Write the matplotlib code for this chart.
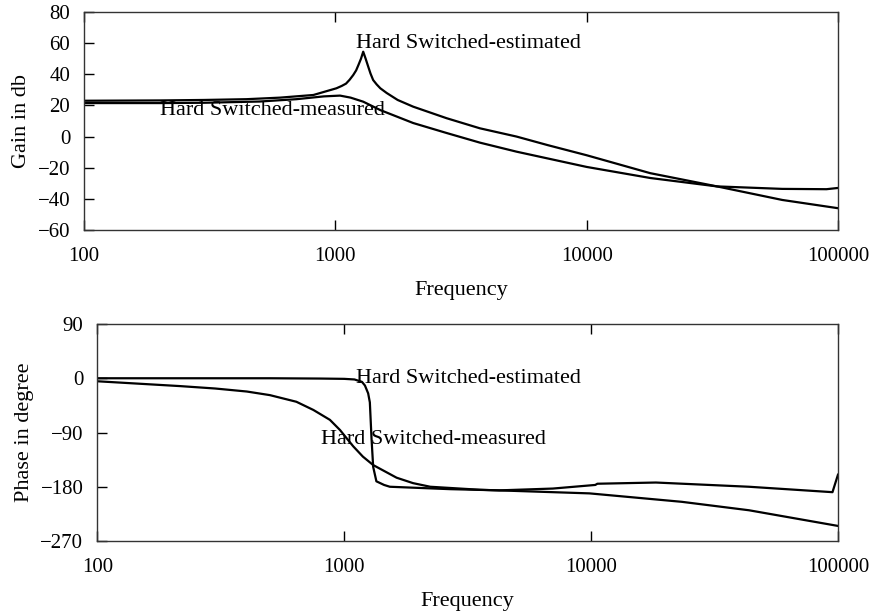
import numpy as np
import matplotlib
matplotlib.use("Agg")
import matplotlib.pyplot as plt
from matplotlib.ticker import FixedLocator, NullLocator

plt.rcParams['font.family'] = ['Liberation Serif', 'DejaVu Serif']
plt.rcParams['font.size'] = 15


# ------- Data -------

gain_est_f = [100, 200, 300, 443, 603, 818, 1010, 1060, 1103, 1140, 1178, 1210, 1236, 1265,
              1291, 1320, 1351, 1380, 1414, 1460, 1510, 1600, 1770, 2040, 2770, 3760, 5260,
              7000, 10000, 17900, 33000, 60000, 100000]
gain_est = [23, 23.2, 23.5, 24, 25, 26.7, 31, 32.5, 34, 36.5, 39.5, 42.5, 46, 50,
            54.5, 50, 45, 40.5, 36.3, 33.5, 31, 28, 23.5, 19.2, 11.8, 5.3, 0,
            -5.5, -12, -23.5, -32, -40.7, -46]

gain_meas_f = [100, 200, 300, 500, 700, 900, 1044, 1150, 1291, 1510, 2040, 2770, 3760,
               5260, 10000, 17900, 33000, 60000, 90000, 100000]
gain_meas = [21.5, 21.5, 21.7, 22.5, 24, 25.8, 26.3, 25, 22.4, 17, 8.7, 2.3, -3.9,
             -9.7, -19.5, -26.6, -32, -33.6, -33.8, -33]

phase_est_f = [100, 500, 800, 1000, 1100, 1180, 1213, 1250, 1270, 1290, 1310, 1350, 1450,
               1530, 2680, 4250, 7000, 10400, 10600, 18300, 43600, 95000, 100000]
phase_est = [0, 0, -0.5, -1, -2, -6, -12, -25, -40, -100, -147, -171, -177,
             -180, -184, -186, -183, -177, -175, -173, -180, -189, -160]

phase_meas_f = [100, 216, 300, 403, 500, 640, 750, 875, 962, 1024, 1088, 1190, 1310, 1630,
                1900, 2230, 3540, 9850, 23300, 43600, 100000]
phase_meas = [-5, -13, -17, -22, -28, -39, -52.6, -69, -86, -99.8, -113, -130, -144, -165,
              -174, -180, -185, -191, -205, -219, -245]

freq_ticks = [100, 1000, 10000, 100000]
gain_ticks = [-60, -40, -20, 0, 20, 40, 60, 80]
phase_ticks = [-270, -180, -90, 0, 90]


# ------- Create the figure -------

fig = plt.figure(figsize=(8.77, 6.14), dpi=100)
axg = fig.add_axes([0.0958, 0.6254, 0.8597, 0.3551])
axp = fig.add_axes([0.111, 0.1189, 0.8445, 0.3534])


def style_axis(ax, yticks, ylabel):
    ax.set_xscale('log')
    ax.set_xlim(100, 100000)
    ax.set_ylim(yticks[0], yticks[-1])
    ax.xaxis.set_major_locator(FixedLocator(freq_ticks))
    ax.xaxis.set_minor_locator(NullLocator())
    ax.set_xticklabels([str(t) for t in freq_ticks])
    ax.set_yticks(yticks)
    ax.tick_params(axis='x', direction='in', length=7, width=1, top=True, bottom=True, pad=12)
    ax.tick_params(axis='y', direction='in', length=7, width=1, left=True, right=False, pad=10)
    for s in ax.spines.values():
        s.set_color('#333333')
        s.set_linewidth(1)
    ax.set_xlabel('Frequency', fontsize=16, labelpad=11)
    ax.set_ylabel(ylabel, fontsize=16, labelpad=5)


# ------- Gain plot -------

axg.plot(gain_est_f, gain_est, color='black', linewidth=1.6)
axg.plot(gain_meas_f, gain_meas, color='black', linewidth=1.6)
style_axis(axg, gain_ticks, 'Gain in db')
axg.text(1208, 60, 'Hard Switched-estimated', fontsize=16, ha='left', va='center')
axg.text(200, 17, 'Hard Switched-measured', fontsize=16, ha='left', va='center')


# ------- Phase plot -------

axp.plot(phase_est_f, phase_est, color='black', linewidth=1.6)
axp.plot(phase_meas_f, phase_meas, color='black', linewidth=1.6)
style_axis(axp, phase_ticks, 'Phase in degree')
axp.text(1114, -1, 'Hard Switched-estimated', fontsize=16, ha='left', va='center')
axp.text(805, -102, 'Hard Switched-measured', fontsize=16, ha='left', va='center')

plt.savefig('out.png', dpi=100)
